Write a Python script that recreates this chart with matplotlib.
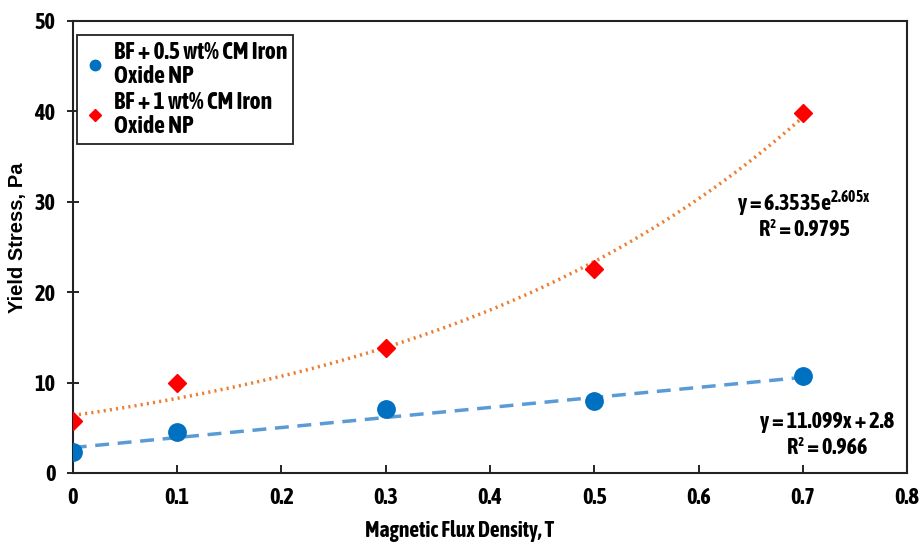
import numpy as np
import matplotlib

matplotlib.use("Agg")
import matplotlib.pyplot as plt
from matplotlib import font_manager

# Arial Narrow look-alike with a bold face, if one is installed
bold_narrow = sorted({f.name for f in font_manager.fontManager.ttflist
                      if ("Narrow" in f.name or "Condensed" in f.name)
                      and (f.weight in ("bold", "semibold", "demibold")
                           or (isinstance(f.weight, int) and f.weight >= 600))})
pref = [n for n in bold_narrow if n.startswith("Liberation")] or bold_narrow
FAM = pref[0] if pref else "Liberation Sans"
plt.rcParams["font.family"] = [FAM, "Liberation Sans", "DejaVu Sans"]
plt.rcParams["font.weight"] = "bold"
plt.rcParams["axes.labelweight"] = "bold"
plt.rcParams["mathtext.fontset"] = "custom"
plt.rcParams["mathtext.rm"] = FAM + ":bold"
plt.rcParams["mathtext.bf"] = FAM + ":bold"
FS = 16 if pref else 12

# data
flux = [0.0, 0.1, 0.3, 0.5, 0.7]
stress_05 = [2.3, 4.5, 7.1, 8.0, 10.7]
stress_1 = [5.7, 9.9, 13.8, 22.6, 39.8]
labels = ["BF + 0.5 wt% CM Iron\nOxide NP", "BF + 1 wt% CM Iron\nOxide NP"]

# trendline coefficients as printed on the chart
lin_slope, lin_icpt = 11.099, 2.8
exp_a, exp_b = 6.3535, 2.605

fig = plt.figure(figsize=(9.21, 5.48), dpi=100)
ax = fig.add_axes((0.079, 0.137, 0.906, 0.825))

xs = np.linspace(0, 0.7, 200)
ax.plot(xs, lin_slope * xs + lin_icpt, color="#5B9BD5", lw=2.5,
        linestyle=(0, (4, 2.5)), zorder=2)
ax.plot(xs, exp_a * np.exp(exp_b * xs), color="#ED7D31", lw=2.5,
        linestyle=(0, (0.6, 1.2)), zorder=2)

ax.plot(flux, stress_05, "o", color="#0070C0", ms=12.5, label=labels[0], zorder=3)
ax.plot(flux, stress_1, "D", color="#FF0000", ms=9.5, label=labels[1], zorder=3)

ax.set_xlim(0, 0.8)
ax.set_ylim(0, 50)
ax.set_xticks(np.arange(0, 0.81, 0.1))
ax.set_xticklabels(["0"] + ["%.1f" % v for v in np.arange(0.1, 0.81, 0.1)])
ax.set_yticks(range(0, 51, 10))
ax.tick_params(axis="x", direction="in", length=6, labelsize=FS, pad=10, width=1.2)
ax.tick_params(axis="y", direction="inout", length=9, labelsize=FS, pad=8, width=1.2)
for s in ax.spines.values():
    s.set_linewidth(1.5)
    s.set_color("#222222")

ax.set_xlabel("Magnetic Flux Density, T", fontsize=FS - 0.5)
ax.xaxis.set_label_coords(0.463, -0.105)
ax.set_ylabel("Yield Stress, Pa", fontsize=14.5, family=["Liberation Sans", "DejaVu Sans"])
ax.yaxis.set_label_coords(-0.055, 0.52)

leg = ax.legend(loc="upper left", bbox_to_anchor=(0.005, 0.968), fontsize=FS + 1,
                handletextpad=0.3, handlelength=1.0, borderaxespad=0.0,
                fancybox=False, framealpha=1, labelspacing=0.12, markerscale=0.6,
                borderpad=0.25)
leg.get_frame().set_edgecolor("#222222")
leg.get_frame().set_linewidth(1.3)
for t in leg.get_texts():
    t.set_linespacing(1.05)

ax.text(0.701, 29.8, "y = 6.3535e$^{\\mathrm{2.605x}}$", fontsize=FS, ha="center", va="center")
ax.text(0.701, 26.9, "R² = 0.9795", fontsize=FS, ha="center", va="center")
ax.text(0.723, 5.6, "y = 11.099x + 2.8", fontsize=FS, ha="center", va="center")
ax.text(0.723, 2.8, "R² = 0.966", fontsize=FS, ha="center", va="center")

fig.savefig("out.png", dpi=100)
